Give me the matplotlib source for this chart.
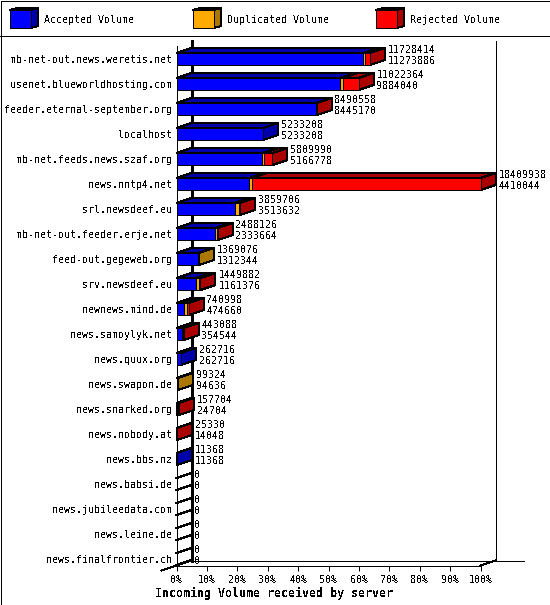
import matplotlib
matplotlib.use("Agg")
import matplotlib.pyplot as plt
from matplotlib.patches import Polygon, Rectangle
from matplotlib.lines import Line2D

# Data
servers = ["mb-net-out.news.weretis.net", "usenet.blueworldhosting.com",
           "feeder.eternal-september.org", "localhost", "mb-net.feeds.news.szaf.org",
           "news.nntp4.net", "srl.newsdeef.eu", "mb-net-out.feeder.erje.net",
           "feed-out.gegeweb.org", "srv.newsdeef.eu", "newnews.mind.de",
           "news.samoylyk.net", "news.quux.org", "news.swapon.de", "news.snarked.org",
           "news.nobody.at", "news.bbs.nz", "news.babsi.de", "news.jubileedata.com",
           "news.leine.de", "news.finalfrontier.ch"]
total = [11728414, 11022364, 8490558, 5233208, 5809990, 18409938, 3859706, 2488126,
         1369076, 1449882, 740998, 443088, 262716, 99324, 157704, 25330, 11368, 0, 0, 0, 0]
accepted = [11273886, 9884040, 8445170, 5233208, 5166778, 4410044, 3513632, 2333664,
            1312344, 1161376, 474660, 354544, 262716, 94636, 24704, 14048, 11368, 0, 0, 0, 0]
duplicated = [145000, 187000, 0, 0, 133000, 145000, 285000, 140000,
              56732, 230000, 150000, 10000, 0, 4688, 120000, 0, 0, 0, 0, 0, 0]
legend_names = ["Accepted Volume", "Duplicated Volume", "Rejected Volume"]
pct_ticks = list(range(0, 101, 10))

# Colours
FRONT = ["#0000ff", "#ffaa00", "#ff0000"]
DARK = ["#0000aa", "#aa7700", "#aa0000"]

W, H = 550, 605
DX, DY = 15, 5          # depth of the 3D look, pixels
BAR_H = 12
LW = 0.72               # one pixel at dpi 100
MONO = "DejaVu Sans Mono"

plt.rcParams["text.antialiased"] = False
plt.rcParams["font.family"] = MONO

fig = plt.figure(figsize=(W / 100, H / 100), dpi=100)

# background layer in pixel coordinates, for frame and legend
bg = fig.add_axes([0, 0, 1, 1])
bg.set_xlim(0, W)
bg.set_ylim(H, 0)
bg.axis("off")

# plot axes are the front plane of the chart
ax = fig.add_axes([176.5 / W, 1 - 565.5 / H, 304 / W, 520 / H])
ax.patch.set_alpha(0)
ax.set_xlim(0, 100)
ax.set_ylim(20.26, -0.54)
px_x = 100 / 304
px_y = 20.8 / 520
dx, dy = DX * px_x, DY * px_y
half = BAR_H / 2 * px_y


def box(x0, x1, row, col, z):
    y0, y1 = row - half, row + half
    top = [(x0, y0), (x0 + dx, y0 - dy), (x1 + dx, y0 - dy), (x1, y0)]
    side = [(x1, y0), (x1 + dx, y0 - dy), (x1 + dx, y1 - dy), (x1, y1)]
    kw = dict(edgecolor="black", linewidth=LW, clip_on=False, antialiased=False, zorder=z)
    ax.add_patch(Polygon(side, facecolor=DARK[col], **kw))
    ax.add_patch(Polygon(top, facecolor=DARK[col], **kw))
    ax.add_patch(Rectangle((x0, y0), x1 - x0, y1 - y0, facecolor=FRONT[col], **kw))


scale = max(total)
for i, name in enumerate(servers):
    rej = total[i] - accepted[i] - duplicated[i]
    parts = [accepted[i], duplicated[i], rej]
    start = 0
    z = 5
    if total[i] == 0:
        # empty server: only the outline of the bar ends
        for yy in (i - half, i + half):
            ax.add_line(Line2D([0, dx], [yy, yy - dy], color="black", linewidth=LW,
                               clip_on=False, antialiased=False, zorder=z))
    for col, val in enumerate(parts):
        if val <= 0:
            continue
        box(start / scale * 100, (start + val) / scale * 100, i, col, z)
        start += val
        z += 1
    xend = total[i] / scale * 100 + dx + 3 * px_x
    ax.text(xend, i - 9 * px_y, str(total[i]), fontsize=7.2, va="center", ha="left", zorder=20)
    ax.text(xend, i + 2 * px_y, str(accepted[i]), fontsize=7.2, va="center", ha="left", zorder=20)

# axes, ticks and labels
for s in ["top", "right", "bottom"]:
    ax.spines[s].set_visible(False)
ax.spines["left"].set_linewidth(LW)
ax.set_yticks(range(len(servers)))
ax.set_yticklabels(servers, fontsize=7.2)
ax.tick_params(axis="y", length=0, pad=3)
ax.set_xticks(pct_ticks)
ax.set_xticklabels([f"{p}%" for p in pct_ticks], fontsize=7.2)
ax.tick_params(axis="x", length=3.6, width=LW, pad=3)
ax.set_xlabel("Incoming Volume received by server", fontsize=8.4, fontweight="bold", labelpad=1)
ax.xaxis.set_label_coords((274 - 176.5) / 304, -21 / 520)

# back wall and floor
line = dict(color="black", linewidth=LW, clip_on=False, antialiased=False, zorder=6)
ax.add_line(Line2D([dx, dx], [20.26 - dy, -0.54 - dy], color="black", linewidth=1.0,
                   clip_on=False, antialiased=False, zorder=1))
ax.add_line(Line2D([100 + dx, 100 + dx], [20.26 - dy, -0.54 - dy], **line))
ax.add_line(Line2D([dx, 100 + dx + 28 * px_x], [20.26 - dy, 20.26 - dy], **line))
ax.add_line(Line2D([-dx, dx], [20.26 + dy, 20.26 - dy], **line))
ax.add_line(Line2D([100, 100 + dx], [20.26, 20.26 - dy], **line))
ax.add_line(Line2D([0, 100], [20.26, 20.26], **line))

# frame and legend divider
bg.add_patch(Rectangle((0.5, 0.5), W - 1, H - 1, fill=False, edgecolor="black", linewidth=LW,
                       antialiased=False))
bg.plot([0, W], [35.5, 35.5], color="black", linewidth=LW, antialiased=False)
for name, x, tx, col in zip(legend_names, [10, 193, 376], [44, 227, 410], range(3)):
    x1 = x + 21
    kw = dict(edgecolor="black", linewidth=LW, antialiased=False)
    bg.add_patch(Polygon([(x1, 10), (x1 + 7, 8), (x1 + 7, 26), (x1, 28)], facecolor=DARK[col], **kw))
    bg.add_patch(Polygon([(x, 10), (x + 7, 8), (x1 + 7, 8), (x1, 10)], facecolor=DARK[col], **kw))
    bg.add_patch(Rectangle((x, 10), 21, 18, facecolor=FRONT[col], **kw))
    bg.text(tx, 20, name, fontsize=7.2, va="center", ha="left")

fig.savefig("out.png", dpi=100)
